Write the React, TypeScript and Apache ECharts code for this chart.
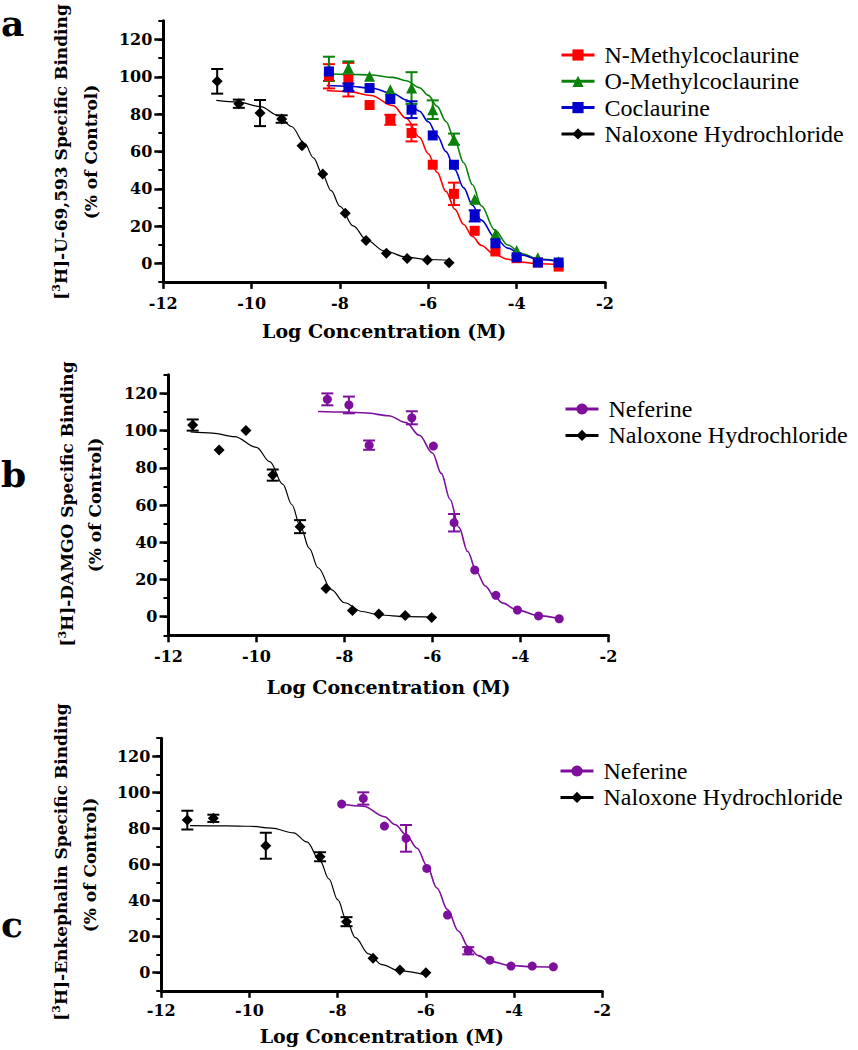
import React, { useEffect, useRef } from "react";
import * as echarts from "echarts";

const FONT = "Liberation Serif";
const BOLD = "DejaVu Serif";

// ---------- Panel a : [3H]-U-69,593 ----------
const aConc = [-8.25, -7.81, -7.33, -6.86, -6.38, -5.9, -5.42, -4.95, -4.48, -4.0, -3.52, -3.05];
const aNMethyl = [100.2, 98.4, 84.8, 76.9, 69.8, 52.8, 37.2, 17.4, 6.3, 2.7, 0.4, -1.8];
const aNMethylErr = [6.5, 9, 0, 2.7, 4.5, 0, 6, 0, 0, 0, 0, 0];
const aOMethyl = [104.2, 104.7, 100.2, 93.0, 93.9, 82.3, 66.5, 34.3, 15.6, 6.8, 3.0, 0.8];
const aOMethylErr = [6.5, 3.5, 0, 0, 8.5, 5, 3, 0, 0, 0, 0, 0];
const aCoclaurine = [102.8, 94.3, 93.9, 88.0, 82.3, 68.5, 52.8, 25.4, 10.7, 3.2, 0.4, 0.4];
const aCoclaurineErr = [0, 2, 0, 0, 4.5, 0, 0, 3, 0, 0, 0, 0];
const aNalConc = [-10.78, -10.29, -9.81, -9.32, -8.86, -8.39, -7.88, -7.41, -6.95, -6.48, -6.02, -5.53];
const aNal = [97.5, 85.5, 80.5, 77.3, 63.0, 47.8, 26.8, 12.2, 5.4, 2.5, 1.8, 0.3];
const aNalErr = [6.6, 2.2, 7, 2, 0, 0, 0, 0, 0, 0, 0, 0];

// fitted curves
const aFitX = [-8.3, -7.8, -7.3, -6.8, -6.5, -6.2, -6.0, -5.8, -5.6, -5.4, -5.2, -5.0, -4.8, -4.5, -4.2, -3.9, -3.5, -3.0];
const aFitNMethyl = [92.6, 92.0, 89.9, 84.5, 77.7, 67.5, 58.7, 48.7, 38.5, 28.9, 20.8, 14.3, 9.5, 4.7, 2.1, 0.6, -0.3, -0.8];
const aFitOMethyl = [101.4, 101.3, 100.9, 99.6, 97.8, 94.1, 90.0, 84.1, 76.0, 65.7, 53.9, 42.1, 30.8, 17.9, 9.8, 5.2, 2.3, 1.0];
const aFitCoclaurine = [95.3, 94.9, 93.9, 91.0, 87.5, 81.5, 75.8, 68.5, 59.8, 50.2, 40.4, 31.1, 23.1, 14.0, 8.1, 4.5, 2.0, 0.7];
const aFitNalX = [-10.8, -10.3, -9.8, -9.4, -9.1, -8.8, -8.6, -8.4, -8.2, -8.0, -7.7, -7.4, -7.0, -6.5, -6.0, -5.5];
const aFitNal = [87.3, 86.4, 83.9, 79.3, 73.3, 64.2, 56.5, 47.8, 38.9, 30.5, 20.0, 12.5, 6.7, 3.3, 2.0, 1.5];

// ---------- Panel b : [3H]-DAMGO ----------
const bNalConc = [-11.45, -10.85, -10.24, -9.63, -9.01, -8.42, -7.82, -7.22, -6.62, -6.02];
const bNal = [103, 89.6, 100, 76.1, 48.4, 15.2, 3.3, 1.4, 0.7, -0.4];
const bNalErr = [3, 0, 0, 3, 3.5, 0, 0, 0, 0, 0];
const bNefConc = [-8.39, -7.9, -7.44, -6.47, -5.98, -5.51, -5.04, -4.56, -4.07, -3.59, -3.12];
const bNef = [116.8, 113.8, 92.2, 106.9, 91.7, 50.5, 25.1, 11.5, 3.6, 0.4, -1.1];
const bNefErr = [3.2, 4.5, 2.5, 3.5, 0, 4.7, 0, 0, 0, 0, 0];
const bFitNalX = [-11.5, -11.0, -10.5, -10.0, -9.7, -9.4, -9.2, -9.0, -8.8, -8.6, -8.3, -8.0, -7.6, -7.2, -6.6, -6.0];
const bFitNal = [99.3, 98.7, 96.8, 91.0, 83.3, 71.1, 60.3, 48.4, 36.7, 26.3, 14.6, 7.5, 2.8, 0.9, 0.0, -0.2];
const bFitNefX = [-8.6, -8.0, -7.5, -7.0, -6.6, -6.3, -6.0, -5.8, -5.6, -5.4, -5.2, -5.0, -4.8, -4.6, -4.4, -4.1, -3.6, -3.12];
const bFitNef = [110.3, 110.0, 109.5, 108.0, 104.3, 97.5, 88, 77, 63, 48, 35, 24, 16.5, 11, 7.3, 3.8, 0.6, -1.0];

// ---------- Panel c : [3H]-Enkephalin ----------
const cNalConc = [-11.41, -10.82, -9.63, -8.4, -7.8, -7.2, -6.59, -6.0];
const cNal = [84.6, 85.6, 70.4, 64.3, 28.3, 8.0, 1.5, 0];
const cNalErr = [5.2, 2, 7.2, 2.5, 2.5, 0, 0, 0];
const cNefConc = [-7.91, -7.42, -6.94, -6.45, -5.98, -5.51, -5.04, -4.55, -4.07, -3.59, -3.11];
const cNef = [93.5, 96.6, 81.3, 74.5, 57.8, 32.0, 12.2, 7.0, 3.7, 3.7, 3.3];
const cNefErr = [0, 3.4, 0, 7.4, 0, 0, 2, 0, 0, 0, 0];
const cFitNalX = [-11.35, -10.5, -10.0, -9.5, -9.0, -8.7, -8.4, -8.2, -8.0, -7.8, -7.6, -7.3, -7.0, -6.6, -6.0];
const cFitNal = [81.5, 81.4, 81.2, 80.2, 77.5, 72.5, 62, 52, 40.5, 29, 19.5, 10.5, 4.5, 1.0, -1.3];
const cFitNefX = [-7.91, -7.42, -6.94, -6.69, -6.45, -6.2, -5.98, -5.75, -5.51, -5.26, -5.04, -4.81, -4.55, -4.07, -3.59, -3.11];
const cFitNef = [93.4, 92.3, 86.5, 82, 76.5, 69, 59.5, 47, 35, 23, 14.5, 9.5, 6.3, 4.0, 3.3, 3.1];

const xTicks = [-12, -2, 2];
const yRange = [-10, 130, 10];
const yLabelRange = [0, 120, 20];

const RED = "#ff0000";
const GREEN = "#0a820a";
const BLUE = "#0000cc";
const PURPLE = "#7d0f9c";
const BLACK = "#000000";

const pairs = (xs: number[], ys: number[]) => xs.map((x, i) => [x, ys[i]]);
const triples = (xs: number[], ys: number[], es: number[]) => xs.map((x, i) => [x, ys[i], es[i]]);

function curve(name: string, xs: number[], ys: number[], color: string, symbol: string, ai: number, width = 1.6) {
  return {
    type: "line", name, xAxisIndex: ai, yAxisIndex: ai,
    data: pairs(xs, ys), smooth: 0.35, smoothMonotone: "x",
    showSymbol: false, symbol, symbolSize: 10,
    lineStyle: { color, width }, itemStyle: { color },
    z: 2, silent: true,
  };
}
function points(name: string, xs: number[], ys: number[], color: string, symbol: string, size: number, ai: number) {
  return {
    type: "scatter", name, xAxisIndex: ai, yAxisIndex: ai,
    data: pairs(xs, ys), symbol, symbolSize: size,
    itemStyle: { color, opacity: 1 }, z: 4, silent: true,
  };
}
function errors(name: string, xs: number[], ys: number[], es: number[], color: string, ai: number) {
  return {
    type: "custom", name, xAxisIndex: ai, yAxisIndex: ai,
    data: triples(xs, ys, es), encode: { x: 0, y: 1 }, z: 3, silent: true,
    renderItem: (_p: any, api: any) => {
      const x = api.value(0), y = api.value(1), e = api.value(2);
      if (!e) return null;
      const t = api.coord([x, y + e]);
      const b = api.coord([x, y - e]);
      const w = 6;
      const style = { stroke: color, lineWidth: 2 };
      return {
        type: "group",
        children: [
          { type: "line", shape: { x1: t[0], y1: t[1], x2: b[0], y2: b[1] }, style },
          { type: "line", shape: { x1: t[0] - w, y1: t[1], x2: t[0] + w, y2: t[1] }, style },
          { type: "line", shape: { x1: b[0] - w, y1: b[1], x2: b[0] + w, y2: b[1] }, style },
        ],
      };
    },
  };
}

// panel geometry (pixels)
const panels = [
  { left: 163.3, width: 441.7, top: 20.7, height: 261.2, labTop: 39.7, labH: 223.6, nameGap: 40, labMargin: 14 },
  { left: 168.5, width: 440, top: 374.8, height: 260.5, labTop: 393.4, labH: 223.3, nameGap: 42, labMargin: 13 },
  { left: 161.3, width: 441, top: 738.2, height: 252.6, labTop: 756.2, labH: 216.5, nameGap: 36, labMargin: 12 },
];

const tickFont = { color: BLACK, fontFamily: BOLD, fontWeight: 700, fontSize: 16 };

export default function App() {
  const ref = useRef<HTMLDivElement>(null);
  useEffect(() => {
    document.body.style.margin = "0";
    const chart = echarts.init(ref.current!, null, { renderer: "svg" });

    const grid: any[] = [];
    const xAxis: any[] = [];
    const yAxis: any[] = [];
    panels.forEach((p) => {
      grid.push({ left: p.left, top: p.top, width: p.width, height: p.height, containLabel: false, outerBoundsMode: "none" });
      grid.push({ left: p.left, top: p.labTop, width: p.width, height: p.labH, containLabel: false, outerBoundsMode: "none" });
      const gi = grid.length - 2;
      xAxis.push({
        gridIndex: gi, type: "value", min: xTicks[0], max: xTicks[1], interval: xTicks[2],
        axisLine: { show: true, onZero: false, lineStyle: { color: BLACK, width: 3 } },
        axisTick: { show: true, length: 7, lineStyle: { color: BLACK, width: 2.5 } },
        axisLabel: { ...tickFont, margin: p.labMargin },
        splitLine: { show: false },
        name: "Log Concentration (M)", nameLocation: "middle", nameGap: p.nameGap,
        nameTextStyle: { color: BLACK, fontFamily: BOLD, fontWeight: 700, fontSize: 19 },
      });
      xAxis.push({ gridIndex: gi + 1, type: "value", min: xTicks[0], max: xTicks[1], show: false });
      yAxis.push({
        gridIndex: gi, type: "value", min: yRange[0], max: yRange[1], interval: yRange[2],
        axisLine: { show: true, onZero: false, lineStyle: { color: BLACK, width: 3 } },
        axisTick: { show: true, length: 5, lineStyle: { color: BLACK, width: 2 } },
        axisLabel: { show: false }, splitLine: { show: false },
      });
      yAxis.push({
        gridIndex: gi + 1, type: "value", min: yLabelRange[0], max: yLabelRange[1], interval: yLabelRange[2],
        axisLine: { show: false, onZero: false },
        axisTick: { show: true, length: 9, lineStyle: { color: BLACK, width: 2.5 } },
        axisLabel: { ...tickFont, margin: 11 },
        splitLine: { show: false },
      });
    });

    const series: any[] = [
      // panel a
      curve("N-Methylcoclaurine", aFitX, aFitNMethyl, RED, "rect", 0),
      curve("O-Methylcoclaurine", aFitX, aFitOMethyl, GREEN, "triangle", 0),
      curve("Coclaurine", aFitX, aFitCoclaurine, BLUE, "rect", 0),
      curve("Naloxone Hydrochloride", aFitNalX, aFitNal, BLACK, "diamond", 0, 1.2),
      errors("N-Methylcoclaurine", aConc, aNMethyl, aNMethylErr, RED, 0),
      errors("O-Methylcoclaurine", aConc, aOMethyl, aOMethylErr, GREEN, 0),
      errors("Coclaurine", aConc, aCoclaurine, aCoclaurineErr, BLUE, 0),
      errors("Naloxone Hydrochloride", aNalConc, aNal, aNalErr, BLACK, 0),
      points("N-Methylcoclaurine", aConc, aNMethyl, RED, "rect", 10, 0),
      points("O-Methylcoclaurine", aConc, aOMethyl, GREEN, "triangle", 11, 0),
      points("Coclaurine", aConc, aCoclaurine, BLUE, "rect", 10, 0),
      points("Naloxone Hydrochloride", aNalConc, aNal, BLACK, "diamond", 11, 0),
      // panel b
      curve("Neferine", bFitNefX, bFitNef, PURPLE, "circle", 2),
      curve("Naloxone Hydrochloride", bFitNalX, bFitNal, BLACK, "diamond", 2, 1.2),
      errors("Neferine", bNefConc, bNef, bNefErr, PURPLE, 2),
      errors("Naloxone Hydrochloride", bNalConc, bNal, bNalErr, BLACK, 2),
      points("Neferine", bNefConc, bNef, PURPLE, "circle", 9, 2),
      points("Naloxone Hydrochloride", bNalConc, bNal, BLACK, "diamond", 11, 2),
      // panel c
      curve("Neferine", cFitNefX, cFitNef, PURPLE, "circle", 4),
      curve("Naloxone Hydrochloride", cFitNalX, cFitNal, BLACK, "diamond", 4, 1.2),
      errors("Neferine", cNefConc, cNef, cNefErr, PURPLE, 4),
      errors("Naloxone Hydrochloride", cNalConc, cNal, cNalErr, BLACK, 4),
      points("Neferine", cNefConc, cNef, PURPLE, "circle", 9, 4),
      points("Naloxone Hydrochloride", cNalConc, cNal, BLACK, "diamond", 11, 4),
    ];

    const legendBase = {
      orient: "vertical", itemWidth: 33, itemHeight: 14, selectedMode: false,
      lineStyle: { width: 3 },
      textStyle: { color: BLACK, fontFamily: FONT, fontSize: 24, lineHeight: 22, padding: [0, 0, 0, 5] },
    };
    const legend = [
      { ...legendBase, left: 555, top: 38, itemGap: 2.3, data: ["N-Methylcoclaurine", "O-Methylcoclaurine", "Coclaurine", "Naloxone Hydrochloride"] },
      { ...legendBase, left: 559, top: 392, itemGap: 2.4, data: ["Neferine", "Naloxone Hydrochloride"] },
      { ...legendBase, left: 554, top: 754, itemGap: 2.4, data: ["Neferine", "Naloxone Hydrochloride"] },
    ];

    const rich = { s: { fontSize: 11, fontWeight: 700, fontFamily: BOLD, fill: BLACK, verticalAlign: "top", lineHeight: 11 } };
    const ytitle = (x: number, y: number, text: string) => ({
      type: "text", x, y, rotation: Math.PI / 2, silent: true,
      style: { text, fill: BLACK, fontFamily: BOLD, fontWeight: 700, fontSize: 17, lineHeight: 21, align: "center", verticalAlign: "middle", rich },
    });
    const letter = (x: number, y: number, text: string) => ({
      type: "text", x, y, silent: true,
      style: { text, fill: BLACK, fontFamily: BOLD, fontWeight: 700, fontSize: 36, align: "left", verticalAlign: "middle" },
    });

    const graphic = [
      letter(1, 23, "a"),
      letter(1, 474, "b"),
      letter(1, 924, "c"),
      ytitle(61, 152, "[{s|3}H]-U-69,593 Specific Binding"),
      ytitle(91, 152, "(% of Control)"),
      ytitle(67, 504, "[{s|3}H]-DAMGO Specific Binding"),
      ytitle(95, 505, "(% of Control)"),
      ytitle(61, 862, "[{s|3}H]-Enkephalin Specific Binding"),
      ytitle(90, 865, "(% of Control)"),
    ];

    chart.setOption({
      animation: false,
      backgroundColor: "#ffffff",
      textStyle: { fontFamily: FONT },
      grid, xAxis, yAxis, series, legend, graphic,
    });
    return () => chart.dispose();
  }, []);
  return <div ref={ref} style={{ width: 858, height: 1050 }} />;
}
